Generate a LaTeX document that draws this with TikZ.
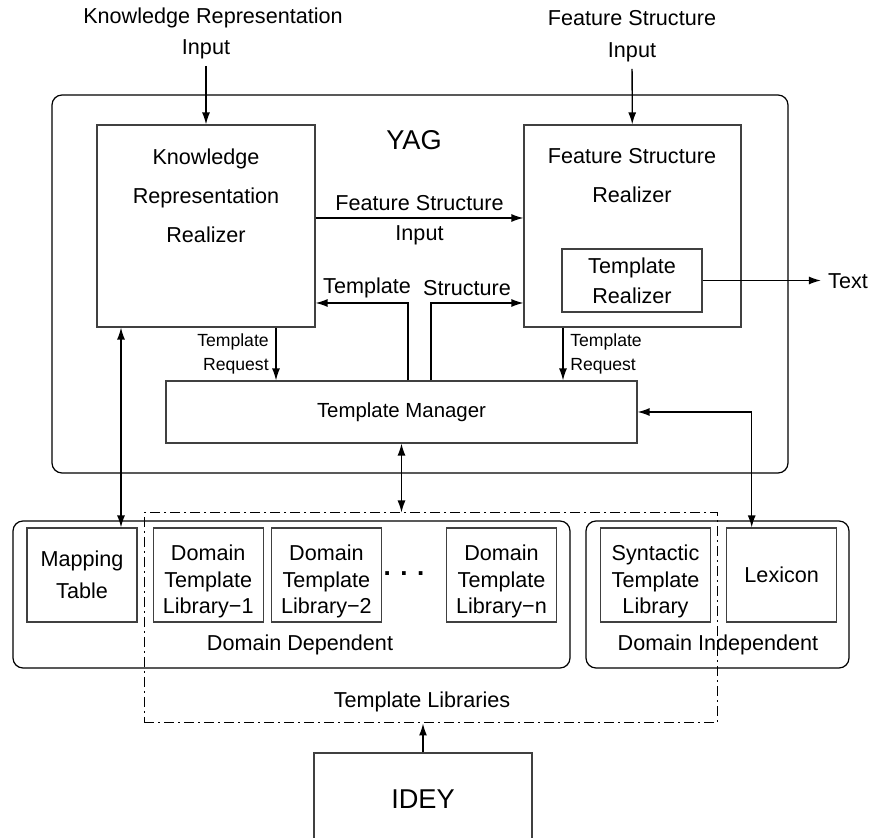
\documentclass[tikz,border=0pt]{standalone}
\usepackage{fontspec}
\setmainfont{Liberation Sans}
\usetikzlibrary{positioning,arrows.meta}
\pgfdeclarelayer{background}
\pgfsetlayers{background,main}

\begin{document}
\begin{tikzpicture}[x=0.5pt,y=-0.5pt,
		every node/.style={font=\fontsize{10.8}{15.8}\selectfont, align=center},
		box/.style={draw=black!75, line width=0.6pt, inner sep=0pt},
		libbox/.style={box, minimum width=55pt, minimum height=47pt, font=\fontsize{10.8}{13.25}\selectfont},
		threeline/.style={text height=41pt},
		group/.style={draw, rounded corners=5pt, line width=0.6pt, inner sep=0pt},
		small/.style={font=\fontsize{8.8}{12}\selectfont},
		big/.style={font=\fontsize{13.6}{16}\selectfont},
		dashdot/.style={draw, line width=0.5pt, dash pattern=on 5pt off 2pt on 1pt off 2pt},
		>={Latex[length=6pt,width=4pt]},
		line width=0.65pt]
	\useasboundingbox (0,0) rectangle (873,838);
	\clip (0,0) rectangle (873,838);

	\node (krin1) at (213,18) {Knowledge Representation};
	\node (krin) at (206,49) {Input};
	\node (fsin) at (632,36) {Feature Structure\\Input};

	\node[box, minimum width=109pt, minimum height=101pt] (kr) at (206,226) {};
	\node[font=\fontsize{10.8}{19.5}\selectfont] (krtxt) at (206,196) {Knowledge\\Representation\\Realizer};
	\node[box, minimum width=108.5pt, minimum height=101pt] (fs) at (632.5,226) {};
	\node[font=\fontsize{10.8}{19.5}\selectfont] (fstxt) at (632,176) {Feature Structure\\Realizer};
	\node[box, minimum width=70pt, minimum height=31.5pt, font=\fontsize{10.8}{15}\selectfont] (tr) at (632,280.5) {Template\\Realizer};
	\node (txt) at (848,281) {Text};
	\node[box, minimum width=235.5pt, minimum height=31pt, font=\fontsize{10.2}{12}\selectfont] (tm) at (401.5,412) {Template Manager};
	\node[big] (yagl) at (414,140) {YAG};

	\node[libbox, font=\fontsize{10.8}{15.8}\selectfont] (map) at (82,575) {Mapping\\Table};
	\node[libbox, threeline, right=7.5pt of map] (lib1) {Domain\\Template\\Library−1};
	\node[libbox, threeline, right=3.5pt of lib1] (lib2) {Domain\\Template\\Library−2};
	\node[font=\bfseries\fontsize{13}{14}\selectfont] (dots) at (404,574) {. . .};
	\node[libbox, threeline] (libn) at (501.5,575) {Domain\\Template\\Library−n};
	\node[libbox, threeline] (syn) at (655.5,575) {Syntactic\\Template\\Library};
	\node[libbox, right=7.5pt of syn] (lex) {Lexicon};
	\node (ddl) at (300,645) {Domain Dependent};
	\node (dil) at (718,645) {Domain Independent};

	\node[dashdot, minimum width=286.5pt, minimum height=105pt, inner sep=0pt] (tl) at (430.5,618) {};
	\node (tll) at (422,702) {Template Libraries};
	\node[box, minimum width=109pt, minimum height=46pt, big] (idey) at (423,799) {IDEY};

	\draw[->] (krin) -- (kr);
	\draw[->] (fsin) -- (fs);
	\draw[->] ([yshift=4pt]kr.east) -- node[above] (fsil1) {Feature Structure} node[below] (fsil2) {Input} ([yshift=4pt]fs.west);

	\coordinate (tsl) at ([xshift=3.25pt]tm.north);
	\coordinate (tsr) at ([xshift=14.75pt]tm.north);
	\draw[->] (tsl) |- ([yshift=-38.5pt]kr.east);
	\draw[->] (tsr) |- ([yshift=-38.5pt]fs.west);
	\node (tsl1) at (367,288) {Template};
	\node (tsl2) at (467,288) {Structure};

	\coordinate (reql) at ([xshift=35pt]kr.south);
	\coordinate (reqr) at ([xshift=-34.75pt]fs.south);
	\draw[->] (reql) -- node[left, align=right, small] (reqll) {Template\\Request} (reql |- tm.north);
	\draw[->] (reqr) -- node[right, align=left, small] (reqrl) {Template\\Request} (reqr |- tm.north);

	\draw[->] (tr.east) -- (tr.east -| txt.west);
	\draw[<->] (tm.south) -- (tm.south |- tl.north);
	\coordinate (lexn) at ([xshift=-15pt]lex.north);
	\draw[<->] (tm.east) -| (lexn);
	\coordinate (mapn) at ([xshift=19.5pt]map.north);
	\draw[<->] (mapn |- kr.south) -- (mapn);
	\draw[->] (idey.north) -- (idey.north |- tl.south);

	\begin{pgfonlayer}{background}
		\node[group, minimum width=368pt, minimum height=189pt] (yag) at (420,284) {};
		\node[group, minimum width=278.5pt, minimum height=73.5pt] (dd) at (291.5,594.5) {};
		\node[group, minimum width=131.5pt, minimum height=73.5pt] (di) at (717.5,594.5) {};
	\end{pgfonlayer}
\end{tikzpicture}
\end{document}
